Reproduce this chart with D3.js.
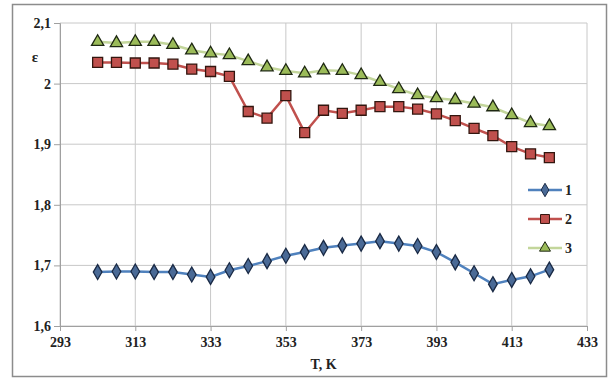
<!DOCTYPE html>
<html lang="ru">
<head>
<meta charset="UTF-8">
<title>ε(T)</title>
<script src="https://d3js.org/d3.v7.min.js"></script>
<style>
  body { margin: 0; background: #fff; }
  svg { display: block; }
</style>
</head>
<body>
<script>
// температура, K
const temps = [303, 308, 313, 318, 323, 328, 333, 338, 343, 348, 353, 358, 363,
               368, 373, 378, 383, 388, 393, 398, 403, 408, 413, 418, 423];

// диэлектрическая проницаемость, три образца
const eps1 = [1.689, 1.690, 1.690, 1.689, 1.689, 1.685, 1.681, 1.692, 1.699, 1.707, 1.716, 1.722, 1.729,
              1.733, 1.736, 1.740, 1.736, 1.732, 1.722, 1.705, 1.687, 1.669, 1.676, 1.682, 1.693];
const eps2 = [2.035, 2.035, 2.034, 2.034, 2.032, 2.024, 2.020, 2.012, 1.954, 1.943, 1.980, 1.919, 1.956,
              1.951, 1.956, 1.962, 1.962, 1.958, 1.950, 1.939, 1.926, 1.914, 1.896, 1.884, 1.878];
const eps3 = [2.069, 2.067, 2.069, 2.069, 2.064, 2.055, 2.050, 2.047, 2.037, 2.027, 2.021, 2.017, 2.022,
              2.021, 2.014, 2.003, 1.991, 1.981, 1.976, 1.973, 1.967, 1.961, 1.948, 1.935, 1.930];

const xTicks = [293, 313, 333, 353, 373, 393, 413, 433];
const yTicks = [1.6, 1.7, 1.8, 1.9, 2.0, 2.1];
const seriesNames = ["1", "2", "3"];

const width = 612, height = 387;
const margin = { top: 23, right: 25, bottom: 61, left: 60 };
const serif = '"Liberation Serif", "DejaVu Serif", serif';

const svg = d3.select("body").append("svg")
  .attr("width", width)
  .attr("height", height);

// рамка диаграммы
svg.append("rect")
  .attr("x", 12.5).attr("y", 4.5)
  .attr("width", 594).attr("height", 372)
  .attr("fill", "#fff")
  .attr("stroke", "#8c8c8c")
  .attr("stroke-width", 1.5);

const x = d3.scaleLinear().domain([293, 433]).range([margin.left, width - margin.right]);
const y = d3.scaleLinear().domain([1.6, 2.1]).range([height - margin.bottom, margin.top]);

const fmt = d => d3.format(".1~f")(d).replace(".", ",");

// сетка
svg.append("g")
  .selectAll("line")
  .data(yTicks)
  .join("line")
  .attr("x1", x(293)).attr("x2", x(433))
  .attr("y1", d => y(d)).attr("y2", d => y(d))
  .attr("stroke", "#c8c8c8").attr("stroke-width", 1);

svg.append("g")
  .selectAll("line")
  .data(xTicks)
  .join("line")
  .attr("x1", d => x(d)).attr("x2", d => x(d))
  .attr("y1", y(2.1)).attr("y2", y(1.6))
  .attr("stroke", "#c8c8c8").attr("stroke-width", 1);

// оси
const xAxis = d3.axisBottom(x).tickValues(xTicks).tickSize(5).tickPadding(6).tickFormat(d3.format("d"));
const yAxis = d3.axisLeft(y).tickValues(yTicks).tickSize(6).tickPadding(3).tickFormat(fmt);

function styleAxis(g) {
  g.attr("font-family", serif).attr("font-weight", "bold").attr("font-size", 14);
  g.select(".domain").attr("stroke", "#a0a0a0");
  g.selectAll(".tick line").attr("stroke", "#a0a0a0");
  g.selectAll("text").attr("fill", "#222");
}

svg.append("g")
  .attr("transform", `translate(0,${y(1.6)})`)
  .call(xAxis)
  .call(styleAxis);

svg.append("g")
  .attr("transform", `translate(${x(293)},0)`)
  .call(yAxis)
  .call(styleAxis);

// подписи осей
svg.append("text")
  .attr("x", 35).attr("y", 62)
  .attr("text-anchor", "middle")
  .attr("font-family", serif).attr("font-weight", "bold")
  .attr("font-size", 15).attr("fill", "#222")
  .text("ε");

svg.append("text")
  .attr("x", (x(293) + x(433)) / 2).attr("y", 369)
  .attr("text-anchor", "middle")
  .attr("font-family", serif).attr("font-weight", "bold")
  .attr("font-size", 14).attr("fill", "#222")
  .text("T, K");

// серии
const series = [
  { name: seriesNames[0], values: eps1, line: "#4f81bd", fill: "#4a6a96", stroke: "#1a2a45", shape: d3.symbolDiamond, size: 65 },
  { name: seriesNames[1], values: eps2, line: "#c0504d", fill: "#c0504d", stroke: "#33160f", shape: d3.symbolSquare, size: 100 },
  { name: seriesNames[2], values: eps3, line: "#c3d69b", fill: "#9bbb59", stroke: "#1e2812", shape: d3.symbolTriangle, size: 65 }
];

const line = d3.line()
  .x((d, i) => x(temps[i]))
  .y(d => y(d));

series.forEach(s => {
  svg.append("path")
    .datum(s.values)
    .attr("fill", "none")
    .attr("stroke", s.line)
    .attr("stroke-width", 2.5)
    .attr("d", line);

  svg.append("g")
    .selectAll("path")
    .data(s.values)
    .join("path")
    .attr("transform", (d, i) => `translate(${x(temps[i])},${y(d)})`)
    .attr("d", d3.symbol().type(s.shape).size(s.size))
    .attr("fill", s.fill)
    .attr("stroke", s.stroke)
    .attr("stroke-width", 1.3);
});

// легенда
const legend = svg.append("g").attr("transform", "translate(528,190)");
series.forEach((s, i) => {
  const g = legend.append("g").attr("transform", `translate(0,${i * 29})`);
  g.append("line")
    .attr("x1", 0).attr("x2", 34)
    .attr("stroke", s.line).attr("stroke-width", 2.5);
  g.append("path")
    .attr("transform", "translate(17,0)")
    .attr("d", d3.symbol().type(s.shape).size(s.size * 0.8))
    .attr("fill", s.fill)
    .attr("stroke", s.stroke)
    .attr("stroke-width", 1);
  g.append("text")
    .attr("x", 37).attr("y", 5)
    .attr("font-family", serif).attr("font-weight", "bold")
    .attr("font-size", 14).attr("fill", "#222")
    .text(s.name);
});
</script>
</body>
</html>
